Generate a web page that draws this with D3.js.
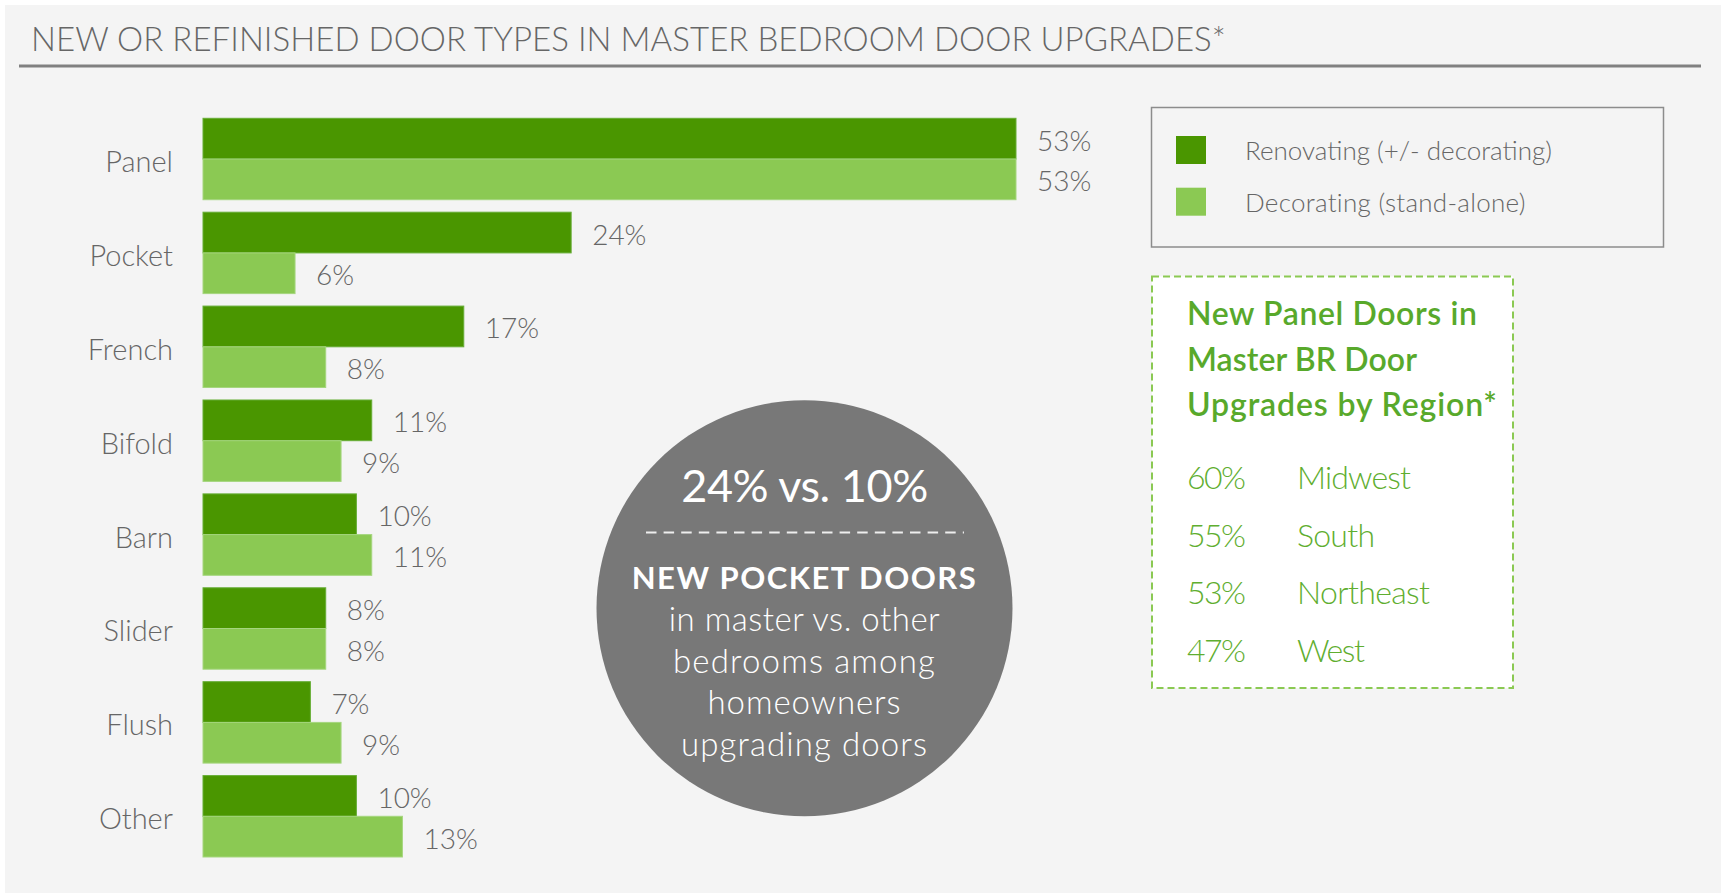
<!DOCTYPE html>
<html>
<head>
<meta charset="utf-8">
<script src="https://cdn.jsdelivr.net/npm/d3@7"></script>
<style>
  html, body { margin: 0; padding: 0; background: #fff; }
  svg { display: block; }
  text { font-family: Lato, "Open Sans", sans-serif; }
</style>
</head>
<body>
<svg id="chart" width="1721" height="895"></svg>
<script>
// data
var categories = ["Panel", "Pocket", "French", "Bifold", "Barn", "Slider", "Flush", "Other"];
var renovating = [53, 24, 17, 11, 10, 8, 7, 10];
var decorating = [53, 6, 8, 9, 11, 8, 9, 13];
var seriesNames = ["Renovating (+/- decorating)", "Decorating (stand-alone)"];
var seriesColors = ["#4a9600", "#8bc953"];
var regionNames = ["Midwest", "South", "Northeast", "West"];
var regionValues = [60, 55, 53, 47];
var title = "NEW OR REFINISHED DOOR TYPES IN MASTER BEDROOM DOOR UPGRADES*";
var regionTitle = ["New Panel Doors in", "Master BR Door", "Upgrades by Region*"];
var callout = { big: "24% vs. 10%", head: "NEW POCKET DOORS",
  lines: ["in master vs. other", "bedrooms among", "homeowners", "upgrading doors"] };

var svg = d3.select("#chart");

// stretch a text to a measured width with letter-spacing, keeps glyph height
function fit(sel, w) {
  sel.each(function () {
    var n = this.getNumberOfChars();
    var cur = this.getComputedTextLength();
    if (n > 1) d3.select(this).attr("letter-spacing", ((w - cur) / (n - 1)).toFixed(2));
  });
}

svg.append("rect").attr("x", 5).attr("y", 5).attr("width", 1716).attr("height", 888).attr("fill", "#f4f4f4");

// title + rule
svg.append("text").attr("x", 31).attr("y", 51).attr("font-size", 33).attr("font-weight", 300)
  .attr("fill", "#666").text(title).call(fit, 1195);
svg.append("line").attr("x1", 19).attr("x2", 1701).attr("y1", 66).attr("y2", 66)
  .attr("stroke", "#808080").attr("stroke-width", 3);

// bars
var x = d3.scaleLinear().domain([0, 53]).range([203, 1016]);
var y = d3.scaleBand().domain(categories).range([118.3, 857]).paddingInner(0.133);
var sub = d3.scaleBand().domain([0, 1]).range([0, y.bandwidth()]);

var rows = categories.map(function (c, i) { return { cat: c, vals: [renovating[i], decorating[i]] }; });

var g = svg.append("g");
var grp = g.selectAll("g.cat").data(rows).join("g").attr("class", "cat")
  .attr("transform", function (d) { return "translate(0," + y(d.cat) + ")"; });

grp.append("text").attr("x", 173).attr("y", y.bandwidth() / 2 + 13)
  .attr("text-anchor", "end").attr("font-size", 29).attr("font-weight", 300).attr("fill", "#666")
  .text(function (d) { return d.cat; });

var bars = grp.selectAll("g.bar").data(function (d) { return d.vals; }).join("g").attr("class", "bar");
bars.append("rect")
  .attr("x", x(0)).attr("y", function (d, i) { return sub(i); })
  .attr("width", function (d) { return x(d) - x(0); }).attr("height", sub.bandwidth())
  .attr("fill", function (d, i) { return seriesColors[i]; })
  .attr("stroke", function (d, i) { return i ? "#a5d67e" : "#66ad35"; }).attr("stroke-width", 1);
bars.append("text")
  .attr("x", function (d) { return x(d) + 21; })
  .attr("y", function (d, i) { return sub(i) + sub.bandwidth() / 2 + 12; })
  .attr("font-size", 28).attr("font-weight", 300).attr("fill", "#666")
  .text(function (d) { return d + "%"; });

// legend
var lg = svg.append("g");
lg.append("rect").attr("x", 1151.5).attr("y", 107.5).attr("width", 512).attr("height", 139.5)
  .attr("fill", "none").attr("stroke", "#8c8c8c").attr("stroke-width", 1.5);
var legW = [307, 281];
seriesNames.forEach(function (s, i) {
  var ly = 136 + i * 51.7;
  lg.append("rect").attr("x", 1176).attr("y", ly).attr("width", 30).attr("height", 28).attr("fill", seriesColors[i]);
  lg.append("text").attr("x", 1245).attr("y", ly + 24).attr("font-size", 26).attr("font-weight", 300)
    .attr("fill", "#666").text(s).call(fit, legW[i]);
});

// region box
var rb = svg.append("g");
rb.append("rect").attr("x", 1152).attr("y", 276.5).attr("width", 361).attr("height", 411.5)
  .attr("fill", "#fff").attr("stroke", "#8bc953").attr("stroke-width", 2).attr("stroke-dasharray", "7,4");
var titleW = [290, 230, 310];
regionTitle.forEach(function (t, i) {
  rb.append("text").attr("x", 1187).attr("y", 325 + i * 45.6).attr("font-size", 32).attr("font-weight", 600)
    .attr("fill", "#58a92b").text(t).call(fit, titleW[i]);
});
var nameW = [114, 78, 133, 68];
regionNames.forEach(function (r, i) {
  var ry = 489 + i * 57.5;
  rb.append("text").attr("x", 1187).attr("y", ry).attr("font-size", 32).attr("font-weight", 300)
    .attr("fill", "#5fae30").text(regionValues[i] + "%").call(fit, 59);
  rb.append("text").attr("x", 1297).attr("y", ry).attr("font-size", 32).attr("font-weight", 300)
    .attr("fill", "#5fae30").text(r).call(fit, nameW[i]);
});

// callout circle
var cx = 804.5, cy = 608.3;
var cg = svg.append("g");
cg.append("circle").attr("cx", cx).attr("cy", cy).attr("r", 208).attr("fill", "#787878");
cg.append("text").attr("x", cx).attr("y", 502).attr("text-anchor", "middle").attr("font-size", 45)
  .attr("fill", "#fff").text(callout.big).call(fit, 247);
cg.append("line").attr("x1", 646).attr("x2", 964).attr("y1", 532.5).attr("y2", 532.5)
  .attr("stroke", "#eee").attr("stroke-width", 2).attr("stroke-dasharray", "10.5,7.1");
cg.append("text").attr("x", cx).attr("y", 589).attr("text-anchor", "middle").attr("font-size", 31)
  .attr("font-weight", 700).attr("fill", "#fff").text(callout.head).call(fit, 344);
var lineW = [271, 262, 193, 246];
callout.lines.forEach(function (t, i) {
  cg.append("text").attr("x", cx).attr("y", 631 + i * 41.6).attr("text-anchor", "middle")
    .attr("font-size", 33).attr("font-weight", 300).attr("fill", "#fff").text(t).call(fit, lineW[i]);
});
</script>
</body>
</html>
